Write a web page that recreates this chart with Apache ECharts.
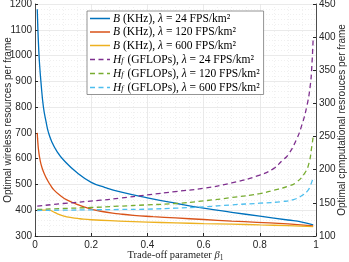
<!DOCTYPE html>
<html><head><meta charset="utf-8">
<script src="https://cdn.jsdelivr.net/npm/echarts@6/dist/echarts.min.js"></script>
<style>html,body{margin:0;padding:0;background:#fff}#c{width:349px;height:262px}</style>
</head><body><div id="c"></div>
<script>
// ---- data ----
const xTicks = [0, 0.2, 0.4, 0.6, 0.8, 1];
const leftTicks = [300, 400, 500, 600, 700, 800, 900, 1000, 1100, 1200];
const rightTicks = [100, 150, 200, 250, 300, 350, 400, 450];

// B (KHz) on the left axis
const bX24 = [0.008, 0.01, 0.013, 0.016, 0.021, 0.03, 0.04, 0.047, 0.06, 0.08, 0.1, 0.15, 0.2, 0.25, 0.3, 0.4, 0.5, 0.6, 0.7, 0.8, 0.9, 0.95, 0.99];
const bY24 = [1180, 1110, 1030, 970, 900, 800, 740, 705, 665, 625, 597, 545, 508, 488, 472, 448, 427, 408, 392, 377, 362, 354, 343];
const bX120 = [0.008, 0.01, 0.013, 0.018, 0.025, 0.035, 0.044, 0.055, 0.068, 0.09, 0.115, 0.145, 0.174, 0.234, 0.3, 0.35, 0.42, 0.5, 0.6, 0.7, 0.79, 0.9, 0.99];
const bY120 = [700, 665, 630, 595, 565, 537, 517, 497, 478, 457, 439, 425, 413, 396, 386, 380, 375, 370, 364, 358, 353, 347, 339];
const bX600 = [0.008, 0.02, 0.04, 0.05, 0.055, 0.065, 0.08, 0.1, 0.13, 0.16, 0.2, 0.3, 0.4, 0.5, 0.6, 0.7, 0.8, 0.9, 0.99];
const bY600 = [400, 400, 400, 400, 399, 394, 386, 378, 371, 367, 363, 358, 354, 351, 348, 346, 343, 340, 336];

// H_f (GFLOPs) on the right axis
const hX24 = [0.008, 0.1, 0.234, 0.3, 0.4, 0.5, 0.6, 0.7, 0.8, 0.85, 0.88, 0.9, 0.93, 0.95, 0.967, 0.979, 0.985, 0.99];
const hY24 = [145, 149, 154, 157, 162, 167, 172, 180, 192, 202, 214, 222, 245, 268, 295, 325, 355, 400];
const hX120 = [0.008, 0.1, 0.2, 0.3, 0.4, 0.5, 0.6, 0.7, 0.8, 0.85, 0.9, 0.93, 0.96, 0.975, 0.985, 0.99];
const hY120 = [140, 141.5, 143, 145, 147, 149, 153, 158, 164, 169, 175, 181, 195, 210, 235, 250];
const hX600 = [0.008, 0.1, 0.2, 0.3, 0.4, 0.5, 0.6, 0.7, 0.8, 0.88, 0.92, 0.95, 0.97, 0.98, 0.99];
const hY600 = [138.5, 139, 139.5, 140, 140.5, 142, 144, 147, 149.5, 152, 155, 161, 168, 176, 188];

const legendText = {
  b24: '{i|B} (KHz), {i|λ} = 24 FPS/km²',
  b120: '{i|B} (KHz), {i|λ} = 120 FPS/km²',
  b600: '{i|B} (KHz), {i|λ} = 600 FPS/km²',
  h24: '{i|H}{sub|f} (GFLOPs), {i|λ} = 24 FPS/km²',
  h120: '{i|H}{sub|f} (GFLOPs), {i|λ} = 120 FPS/km²',
  h600: '{i|H}{sub|f} (GFLOPs), {i|λ} = 600 FPS/km²'
};
const colors = ['#0072BD', '#D95319', '#EDB120', '#7E2F8E', '#77AC30', '#4DBEEE'];

const zip = (xs, ys) => xs.map((x, i) => [x, ys[i]]);
const axisCol = '#262626';
const sans = 'Liberation Sans';
const serif = 'Liberation Serif';
const solidIcon = 'path://M0,4.35h20v1.3h-20z M0,0h0.01v0.01h-0.01z M0,10h0.01v-0.01h-0.01z';
const dashIcon = 'path://M0,4.35h5v1.3h-5z M8.5,4.35h5v1.3h-5z M17,4.35h3v1.3h-3z M0,0h0.01v0.01h-0.01z M0,10h0.01v-0.01h-0.01z';

function line(name, xs, ys, color, dashed, yAxisIndex) {
  return {
    name, type: 'line', yAxisIndex, data: zip(xs, ys),
    symbol: 'none', showSymbol: false, smooth: 0.5,
    lineStyle: { color, width: 1.3, type: dashed ? [5, 3.5] : 'solid' },
    itemStyle: { color }, animation: false, z: 3
  };
}

const chart = echarts.init(document.getElementById('c'), null, { renderer: 'canvas' });
chart.setOption({
  animation: false,
  grid: { left: 35, right: 33, top: 4, bottom: 26, containLabel: false, outerBoundsMode: 'none' },
  legend: {
    orient: 'vertical', left: 87, top: 11,
    backgroundColor: '#fff', borderColor: '#7a7a7a', borderWidth: 0.8,
    padding: [1.5, 4, 1, 3], itemGap: 1.5, itemWidth: 20, itemHeight: 10,
    data: [
      { name: 'b24', icon: solidIcon }, { name: 'b120', icon: solidIcon }, { name: 'b600', icon: solidIcon },
      { name: 'h24', icon: dashIcon }, { name: 'h120', icon: dashIcon }, { name: 'h600', icon: dashIcon }
    ],
    formatter: n => legendText[n],
    textStyle: {
      fontFamily: serif, fontSize: 11.5, lineHeight: 11, color: '#000', padding: [0, 0, 0, -2],
      rich: {
        i: { fontFamily: serif, fontStyle: 'italic', fontSize: 11.5, lineHeight: 11 },
        sub: { fontFamily: serif, fontStyle: 'italic', fontSize: 8, lineHeight: 11, verticalAlign: 'bottom', padding: [4, 1, 0, 0] }
      }
    }
  },
  xAxis: {
    type: 'value', min: 0, max: 1, interval: 0.2,
    axisLine: { show: true, lineStyle: { color: axisCol, width: 0.8 } },
    axisTick: { show: true, inside: true, length: 3, lineStyle: { color: axisCol } },
    axisLabel: { color: axisCol, fontFamily: sans, fontSize: 10, margin: 4,
      formatter: v => xTicks.includes(+(+v).toFixed(1)) ? String(+(+v).toFixed(1)) : '' },
    splitLine: { show: true, lineStyle: { color: '#e4e4e4', width: 0.8 } },
    minorTick: { show: false, splitNumber: 4 },
    minorSplitLine: { show: true, lineStyle: { color: '#ececec', width: 0.8, type: [1, 2] } },
    name: 'Trade-off parameter {i|β}{sub|1}', nameLocation: 'middle', nameGap: 13, nameMoveOverlap: false,
    nameTextStyle: { fontFamily: serif, fontSize: 10.5, color: axisCol,
      rich: {
        i: { fontFamily: serif, fontStyle: 'italic', fontSize: 10.5 },
        sub: { fontFamily: serif, fontSize: 7.5, verticalAlign: 'bottom', padding: [5, 0, 0, 0] }
      } }
  },
  yAxis: [
    {
      type: 'value', min: leftTicks[0], max: leftTicks[leftTicks.length - 1], interval: 100,
      position: 'left',
      axisLine: { show: true, lineStyle: { color: axisCol, width: 0.8 } },
      axisTick: { show: true, inside: true, length: 3, lineStyle: { color: axisCol } },
      axisLabel: { color: axisCol, fontFamily: sans, fontSize: 10, margin: 3, formatter: v => String(v) },
      splitLine: { show: true, lineStyle: { color: '#e4e4e4', width: 0.8 } },
      minorTick: { show: false, splitNumber: 5 },
      minorSplitLine: { show: true, lineStyle: { color: '#ececec', width: 0.8, type: [1, 2] } },
      name: 'Optimal wireless resources per frame', nameLocation: 'middle', nameGap: 22, nameMoveOverlap: false,
      nameTextStyle: { fontFamily: sans, fontSize: 10, color: axisCol }
    },
    {
      type: 'value', min: rightTicks[0], max: rightTicks[rightTicks.length - 1], interval: 50,
      position: 'right',
      axisLine: { show: true, lineStyle: { color: axisCol, width: 0.8 } },
      axisTick: { show: true, inside: true, length: 3, lineStyle: { color: axisCol } },
      axisLabel: { color: axisCol, fontFamily: sans, fontSize: 10, margin: 3, formatter: v => String(v) },
      splitLine: { show: false },
      name: 'Optimal cpmputational resrouces per frame', nameLocation: 'middle', nameGap: 21, nameMoveOverlap: false,
      nameRotate: 90,
      nameTextStyle: { fontFamily: sans, fontSize: 10, color: axisCol }
    }
  ],
  series: [
    line('b24', bX24, bY24, colors[0], false, 0),
    line('b120', bX120, bY120, colors[1], false, 0),
    line('b600', bX600, bY600, colors[2], false, 0),
    line('h24', hX24, hY24, colors[3], true, 1),
    line('h120', hX120, hY120, colors[4], true, 1),
    line('h600', hX600, hY600, colors[5], true, 1)
  ]
});
</script></body></html>
